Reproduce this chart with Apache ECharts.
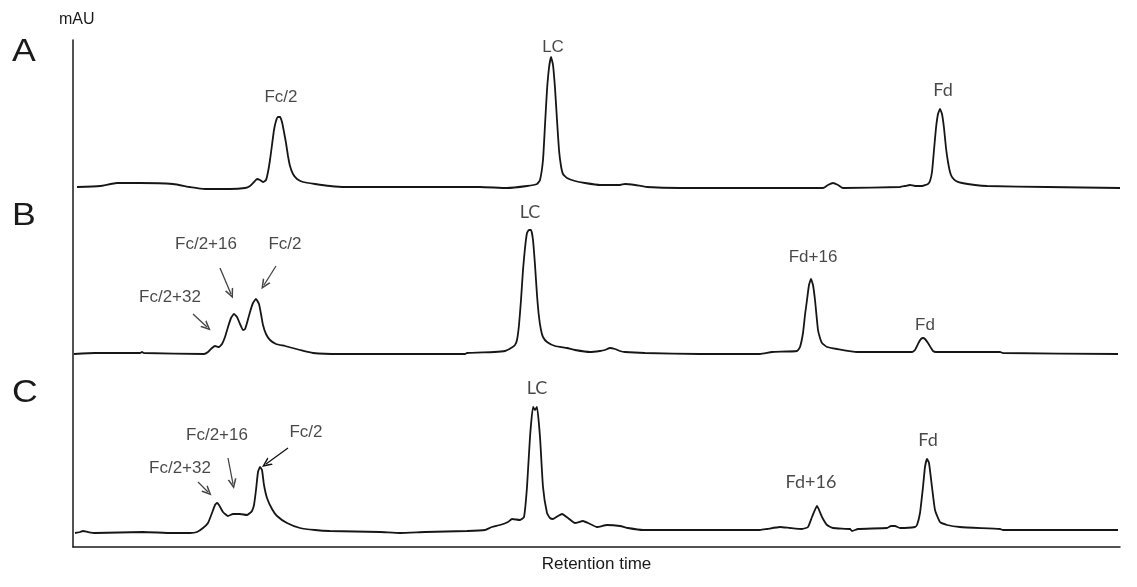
<!DOCTYPE html>
<html>
<head>
<meta charset="utf-8">
<script src="https://cdn.jsdelivr.net/npm/echarts@6/dist/echarts.min.js"></script>
<style>
  html, body { margin: 0; padding: 0; background: #fff; }
  #chart { width: 1137px; height: 587px; }
</style>
</head>
<body>
<div id="chart"></div>
<script>
// ---------- Data (retention time in arbitrary units, signal in mAU above each trace's baseline) ----------
const timeA = [4,27,44,67,100,117,132,157,172,177,181,184,187,190,193,195,197,199,201,203,205,207,209,211,213,215,217,220,224,230,242,257,272,407,434,454,464,467,470,472,474,476,478,480,482,484,486,488,490,494,502,512,527,547,552,562,574,607,750,755,760,765,770,827,832,837,842,849,855,857,859,861,863,865,867,869,871,873,875,877,879,883,889,902,914,974,1047];
const signalA = [1,2,5,5,4,1,-1,-1,0,2,6,9,8,6,8,16,28,43,58,67,71,71,66,56,45,32,22,14,9,6,4,2,1,1,0,2,4,8,28,63,98,120,131,123,100,68,38,22,14,10,7,5,3,3,4,3,1,0,0,3,5,3,0,1,2,3,2,2,4,7,16,38,60,74,79,74,60,40,26,16,11,7,5,3,2,1,0];

const timeB = [1,22,67,69,71,131,135,139,142,146,149,152,155,158,161,164,167,170,172,174,177,180,183,186,188,190,193,197,203,212,227,240,267,392,394,421,432,438,442,444,446,448,450,452,454,456,458,460,462,464,466,468,470,474,482,494,502,517,527,532,537,542,547,552,572,627,687,699,724,727,730,732,734,736,738,740,742,745,747,749,754,764,784,839,842,846,848,850,852,855,858,860,863,927,930,1045];
const signalB = [0,1,1,2,1,0,2,6,8,7,10,17,27,36,40,37,30,24,25,31,42,51,55,50,40,29,20,14,10,8,4,1,0,0,1,2,3,6,9,14,29,54,84,106,121,124,124,114,89,59,37,24,17,12,8,6,4,2,3,4,6,5,3,2,1,0,0,2,3,7,21,39,54,69,75,69,54,24,16,11,7,5,2,2,4,12,15,16,15,11,6,3,2,2,1,0];

const timeC = [2,7,10,15,22,70,99,117,124,130,135,139,142,144,146,150,155,160,167,174,177,179,181,183,185,187,189,191,194,199,204,214,227,242,257,307,327,352,394,412,419,427,435,439,447,451,454,457,460,462,464,467,470,474,477,480,485,489,495,502,510,515,524,534,547,555,570,687,694,707,717,729,735,739,744,749,754,760,777,779,785,814,818,822,827,842,844,847,850,852,854,856,859,862,867,874,887,927,930,1045];
const signalC = [0,1,2,1,0,1,0,0,1,5,10,20,28,30,28,21,17,19,19,18,20,22,28,43,61,66,63,48,35,24,17,10,5,3,2,1,0,1,2,3,6,8,11,14,13,16,46,96,126,123,126,96,46,20,15,14,17,19,15,10,12,10,6,8,7,5,3,3,4,6,5,4,6,16,27,16,8,5,4,2,4,5,7,7,5,6,8,20,46,66,74,70,46,23,11,8,6,4,3,3];

// vertical offsets that stack the three chromatograms (mAU)
const offsetA = 359, offsetB = 193, offsetC = 14;

// peak annotations: [text, time, plotted value, font]
const ARIAL = 'Liberation Sans, Arial, sans-serif';
const CALIBRI = 'Lato, Open Sans, sans-serif';
const peakLabels = [
  ['Fc/2', 208, 450, ARIAL], ['LC', 480, 500, ARIAL], ['Fd', 870, 457, CALIBRI],
  ['Fc/2+32', 97, 250, ARIAL], ['Fc/2+16', 133, 303, ARIAL], ['Fc/2', 212, 303, ARIAL],
  ['LC', 457, 335, CALIBRI], ['Fd+16', 740, 290, ARIAL], ['Fd', 852, 222, ARIAL],
  ['Fc/2+32', 107, 79, ARIAL], ['Fc/2+16', 144, 112, ARIAL], ['Fc/2', 233, 115, ARIAL],
  ['LC', 464, 159, CALIBRI], ['Fd+16', 738, 65, CALIBRI], ['Fd', 855, 107, CALIBRI]
];
// arrows: [t1, y1, t2, y2, colour]
const arrows = [
  [120, 233, 134, 220, '#444'], [147, 279, 158, 253, '#444'], [203, 281, 191, 262, '#444'],
  [125, 65, 135, 55, '#444'], [155, 89, 160, 63, '#444'], [215, 99, 193, 83, '#111']
];

const toPairs = (t, s, off) => t.map((x, i) => [x, s[i] + off]);
const chevron = 'path://M0,10 L5,0 L10,10 L8.2,10 L5,3.6 L1.8,10 Z';

const chart = echarts.init(document.getElementById('chart'), null, { renderer: 'canvas' });
const traceStyle = { color: '#161616', width: 1.8 };
const mkTrace = (name, data) => ({
  name, type: 'line', data, showSymbol: false, symbol: 'none', smooth: 0.15,
  lineStyle: traceStyle, silent: true, z: 3
});

chart.setOption({
  animation: false,
  backgroundColor: '#fff',
  grid: { left: 73, right: 17, top: 40, bottom: 40, containLabel: false },
  xAxis: {
    type: 'value', min: 0, max: 1047,
    name: 'Retention time', nameLocation: 'middle', nameGap: 9,
    nameTextStyle: { fontFamily: ARIAL, fontSize: 17, color: '#1a1a1a' },
    axisLine: { show: true, lineStyle: { color: '#1a1a1a', width: 1.5 } },
    axisTick: { show: false }, axisLabel: { show: false }, splitLine: { show: false }
  },
  yAxis: {
    type: 'value', min: 0, max: 507,
    axisLine: { show: true, lineStyle: { color: '#1a1a1a', width: 1.5 } },
    axisTick: { show: false }, axisLabel: { show: false }, splitLine: { show: false }
  },
  graphic: [
    { type: 'text', left: 59, top: 12, style: { text: 'mAU', fontFamily: ARIAL, fontSize: 16, fill: '#1a1a1a' } },
    { type: 'text', x: 12, y: 37, scaleX: 1.15, style: { text: 'A', fontFamily: ARIAL, fontSize: 31, fill: '#1a1a1a' } },
    { type: 'text', x: 12, y: 201, scaleX: 1.15, style: { text: 'B', fontFamily: ARIAL, fontSize: 31, fill: '#1a1a1a' } },
    { type: 'text', x: 12, y: 378, scaleX: 1.15, style: { text: 'C', fontFamily: ARIAL, fontSize: 31, fill: '#1a1a1a' } }
  ],
  series: [
    mkTrace('A', toPairs(timeA, signalA, offsetA)),
    mkTrace('B', toPairs(timeB, signalB, offsetB)),
    mkTrace('C', toPairs(timeC, signalC, offsetC)),
    {
      name: 'labels', type: 'scatter', symbolSize: 1, silent: true, z: 4,
      itemStyle: { color: 'rgba(0,0,0,0)' },
      label: { show: true, position: 'inside', formatter: '{b}', fontSize: 17, color: '#1a1a1a' },
      data: peakLabels.map(p => ({
        name: p[0], value: [p[1], p[2]],
        label: { fontFamily: p[3], fontSize: p[3] === CALIBRI ? 18 : 17 }
      })),
      markLine: {
        silent: true, animation: false,
        symbol: ['none', chevron], symbolSize: [9, 10],
        label: { show: false },
        data: arrows.map(a => [
          { coord: [a[0], a[1]], lineStyle: { color: a[4], width: 1.3, type: 'solid' }, itemStyle: { color: a[4] } },
          { coord: [a[2], a[3]], itemStyle: { color: a[4] } }
        ])
      }
    }
  ]
});
</script>
</body>
</html>
